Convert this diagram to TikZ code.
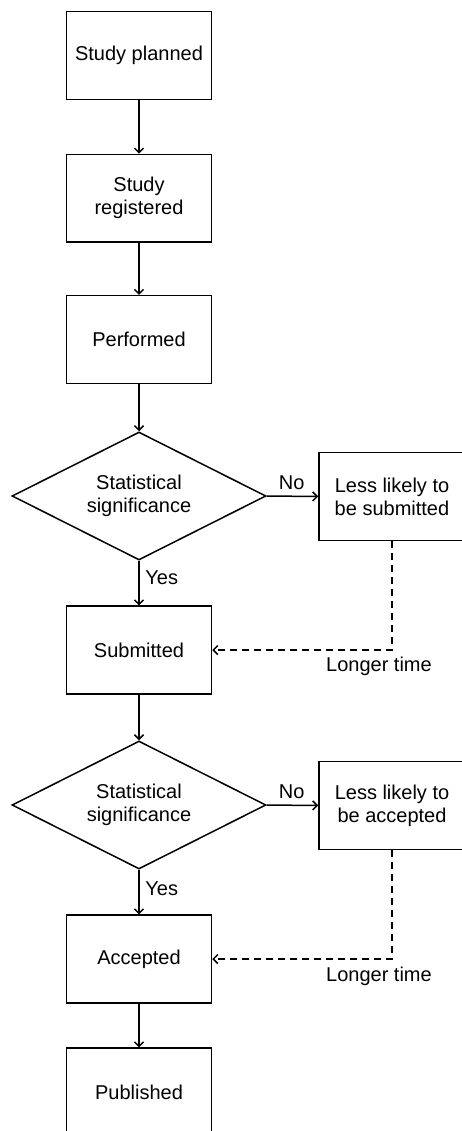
\documentclass[tikz,border=0pt]{standalone}
\usepackage{fontspec}
\setmainfont{Liberation Sans}
\usetikzlibrary{shapes.geometric,arrows.meta}
\begin{document}
\begin{tikzpicture}[x=1pt,y=-1pt,
  txt/.style={font=\fontsize{20}{23}\selectfont},
  box/.style={txt,draw,line width=1.5pt,minimum width=145pt,minimum height=87.6pt,inner sep=0pt,align=center},
  dec/.style={txt,draw,diamond,aspect=2,line width=1.5pt,minimum width=254pt,minimum height=128pt,inner sep=0pt,align=center},
  lab/.style={txt,inner sep=0pt},
  arr/.style={line width=1.5pt,-{Straight Barb[length=4.5pt,width=9pt]}},
  dsh/.style={arr,dash pattern=on 7pt off 5pt}]
\useasboundingbox (0,0) rectangle (462,1131);
\clip (0,0) rectangle (462,1131);
\node[box] (p1) at (139,55.5) {Study planned};
\node[box] (p2) at (139,198.3) {Study\\registered};
\node[box] (p3) at (139,339.5) {Performed};
\node[dec] (d1) at (139,496) {Statistical\\significance};
\node[box,minimum width=146pt] (r1) at (392,496.5) {Less likely to\\be submitted};
\node[box] (s) at (139,650) {Submitted};
\node[dec] (d2) at (139,805) {Statistical\\significance};
\node[box,minimum width=146pt] (r2) at (392,805.5) {Less likely to\\be accepted};
\node[box] (a) at (139,959) {Accepted};
\node[box] (pub) at (139,1092) {Published};
\node[lab] (no1) at (291.7,482.7) {No};
\node[lab] (yes1) at (161.7,577.3) {Yes};
\node[lab] (no2) at (291.7,791.5) {No};
\node[lab] (yes2) at (161.7,889) {Yes};
\node[lab] (lt1) at (379,666.7) {Longer time};
\node[lab] (lt2) at (379,976) {Longer time};
\draw[arr] (p1) -- (p2);
\draw[arr] (p2) -- (p3);
\draw[arr] (p3) -- (d1);
\draw[arr] (d1.east) -- (r1.west);
\draw[arr] (d1.south) -- (s.north);
\draw[dsh] (r1.south) -- (r1.south |- s.east) -- (s.east);
\draw[arr] (s) -- (d2);
\draw[arr] (d2.east) -- (r2.west);
\draw[arr] (d2.south) -- (a.north);
\draw[dsh] (r2.south) -- (r2.south |- a.east) -- (a.east);
\draw[arr] (a) -- (pub);
\end{tikzpicture}
\end{document}
